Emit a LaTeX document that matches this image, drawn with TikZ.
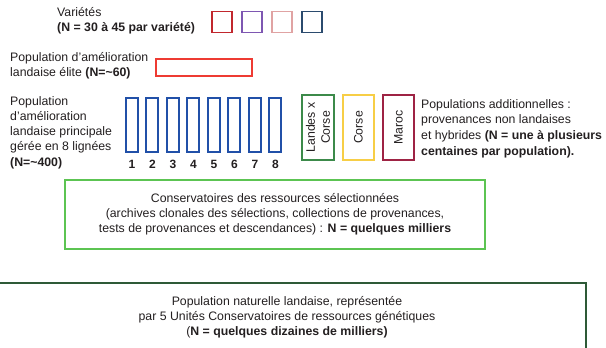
\documentclass[tikz,border=0pt]{standalone}
\usepackage{fontspec}
\setmainfont{Liberation Sans}

\definecolor{texte}{HTML}{231F20}
\definecolor{varA}{HTML}{C1272D}
\definecolor{varB}{HTML}{7E57B2}
\definecolor{varC}{HTML}{E0A3A3}
\definecolor{varD}{HTML}{2B4B6E}
\definecolor{elite}{HTML}{EE3B33}
\definecolor{ligne}{HTML}{2150A8}
\definecolor{landes}{HTML}{3C8A4A}
\definecolor{corse}{HTML}{F7CE46}
\definecolor{maroc}{HTML}{9E2344}
\definecolor{conserv}{HTML}{5CC452}
\definecolor{naturel}{HTML}{2E5A37}

\begin{document}
\begin{tikzpicture}[x=1pt, y=-1pt, font=\fontsize{12.3}{15}\selectfont, text=texte,
		box/.style={draw, line width=1.6pt, inner sep=0pt},
		txt/.style={align=left, anchor=west, inner sep=0pt}]
		\useasboundingbox (0,0) rectangle (606,348);
		
		% varietes
		\node[txt] (variete) at (57,20.5) {Variétés\\ \textbf{(N = 30 à 45 par variété)}};
		\foreach \n\c in {1/varA, 2/varB, 3/varC, 4/varD}
		\node[box, draw=\c, minimum width=20, minimum height=21] (v\n) at (192 + 30 * \n, 22) {};
		
		% elite
		\node[txt] (eliteTxt) at (10,65.5) {Population d’amélioration\\ landaise élite \textbf{(N=\textasciitilde60)}};
		\node[box, draw=elite, minimum width=96, minimum height=17] (elite) at (204,67.5) {};
		
		% population principale en 8 lignees
		\node[txt, font=\fontsize{12.3}{15.2}\selectfont] (principale) at (10,132.5) {Population\\ d’amélioration\\ landaise principale\\ gérée en 8 lignées\\ \textbf{(N=\textasciitilde400)}};
		\foreach \n in {1,...,8}
		{
			\node[box, draw=ligne, line width=2pt, minimum width=12, minimum height=54] (l\n) at (111.4 + 20.5 * \n, 125) {};
			\node[inner sep=0pt, font=\fontsize{12}{12}\selectfont\bfseries] (num\n) at (111.4 + 20.5 * \n, 164.5) {\n};
		}
		
		% populations additionnelles
		\node[box, draw=landes, rotate=90, minimum width=65, minimum height=32, align=center] (landes) at (318,127.5) {Landes x\\Corse};
		\node[box, draw=corse, rotate=90, minimum width=65, minimum height=31] (corse) at (358.5,127.5) {Corse};
		\node[box, draw=maroc, rotate=90, minimum width=65, minimum height=31] (maroc) at (398.5,127.5) {Maroc};
		\node[txt, font=\fontsize{12.3}{15.6}\selectfont] (additionnel) at (421,128.5) {Populations additionnelles :\\ provenances non landaises\\ et hybrides \textbf{(N = une à plusieurs}\\ \textbf{centaines par population).}};
		
		% conservatoires
		\node[box, draw=conserv, minimum width=420, minimum height=69, align=center] (conserv) at (275,214.5) {Conservatoires des ressources sélectionnées\\ (archives clonales des sélections, collections de provenances,\\ tests de provenances et descendances) : \textbf{N = quelques milliers}};
		
		% population naturelle
		\node[box, draw=naturel, minimum width=596, minimum height=90] (naturel) at (288,328) {};
		\node[align=center, inner sep=0pt] (naturelTxt) at (287,317) {Population naturelle landaise, représentée\\ par 5 Unités Conservatoires de ressources génétiques\\ (\textbf{N = quelques dizaines de milliers)}};
	\end{tikzpicture}
\end{document}
